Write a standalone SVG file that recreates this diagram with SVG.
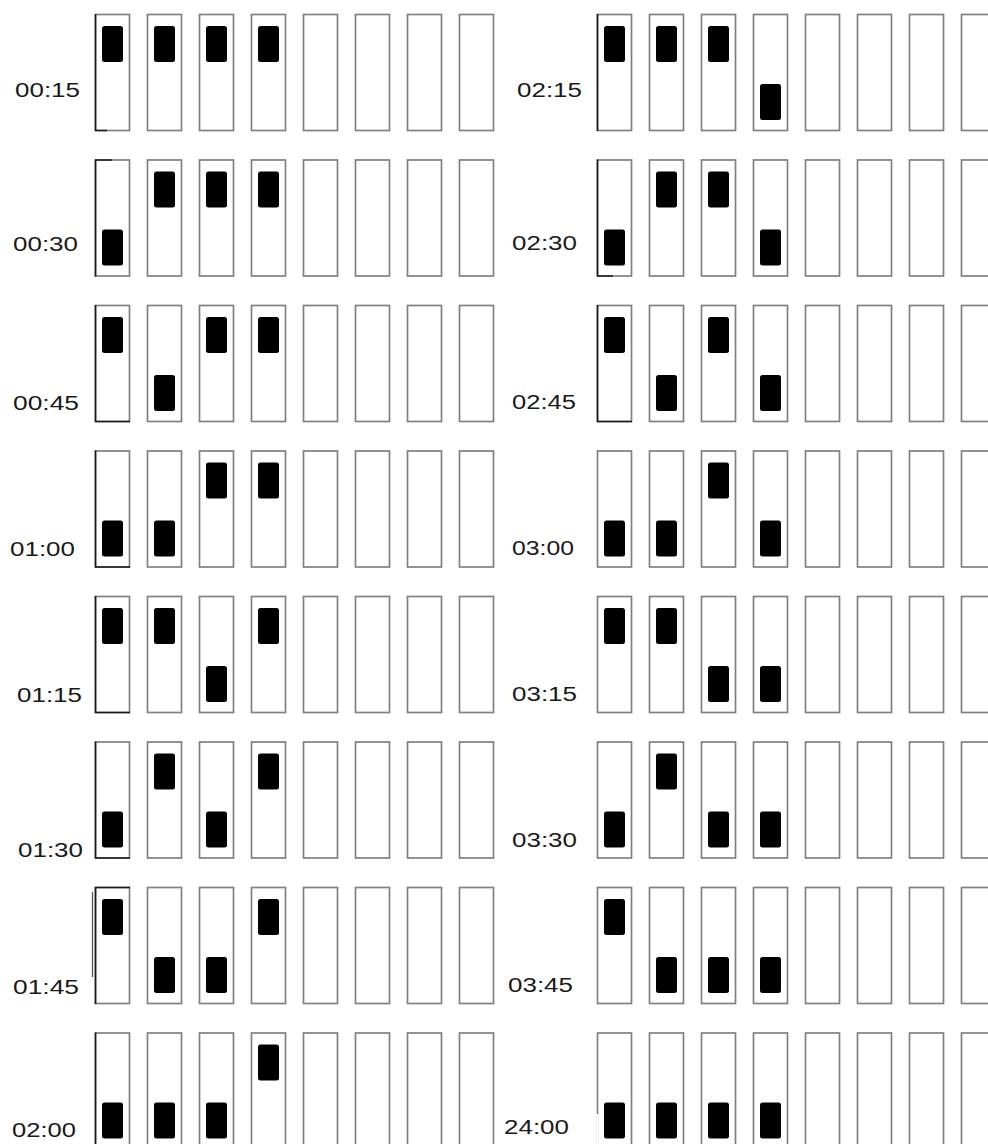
<svg xmlns="http://www.w3.org/2000/svg" xmlns:xlink="http://www.w3.org/1999/xlink" width="988" height="1144" viewBox="0 0 988 1144">
<style>
.box{fill:#fff;stroke:#808080;stroke-width:1.7}
.blk{fill:#000}
.dk{stroke:#1a1a1a;stroke-width:1.6;fill:none}
.lbl{font-family:"Liberation Sans",Arial,sans-serif;font-size:20.5px;fill:#1a1a1a}
</style>
<defs>
<g id="boxes">
<rect class="box" x="0.5" y="0.5" width="34" height="116"/>
<rect class="box" x="52.5" y="0.5" width="34" height="116"/>
<rect class="box" x="104.5" y="0.5" width="34" height="116"/>
<rect class="box" x="156.5" y="0.5" width="34" height="116"/>
<rect class="box" x="208.5" y="0.5" width="34" height="116"/>
<rect class="box" x="260.5" y="0.5" width="34" height="116"/>
<rect class="box" x="312.5" y="0.5" width="34" height="116"/>
<rect class="box" x="364.5" y="0.5" width="34" height="116"/>
</g>
<rect id="bk" class="blk" width="21" height="36" rx="2.5"/>
</defs>
<rect width="988" height="1144" fill="#fff"/>

<g id="r0015">
<use xlink:href="#boxes" x="95" y="14"/>
<path class="dk" d="M95.5 14v117M95 130.5h12"/>
<use xlink:href="#bk" x="102" y="26"/><use xlink:href="#bk" x="154" y="26"/><use xlink:href="#bk" x="206" y="26"/><use xlink:href="#bk" x="258" y="26"/>
<text class="lbl" x="15" y="96.5" textLength="65" lengthAdjust="spacingAndGlyphs">00:15</text>
</g>
<g id="r0030">
<use xlink:href="#boxes" x="95" y="159.5"/>
<path class="dk" d="M95.5 159.5v117M95 160h17"/>
<use xlink:href="#bk" x="102" y="229.5"/><use xlink:href="#bk" x="154" y="171.5"/><use xlink:href="#bk" x="206" y="171.5"/><use xlink:href="#bk" x="258" y="171.5"/>
<text class="lbl" x="13" y="250.5" textLength="65" lengthAdjust="spacingAndGlyphs">00:30</text>
</g>
<g id="r0045">
<use xlink:href="#boxes" x="95" y="305"/>
<path class="dk" d="M95.5 305v117M95 421.5h35"/>
<use xlink:href="#bk" x="102" y="317"/><use xlink:href="#bk" x="154" y="375"/><use xlink:href="#bk" x="206" y="317"/><use xlink:href="#bk" x="258" y="317"/>
<text class="lbl" x="13" y="410" textLength="66" lengthAdjust="spacingAndGlyphs">00:45</text>
</g>
<g id="r0100">
<use xlink:href="#boxes" x="95" y="450.5"/>
<path class="dk" d="M95.5 450.5v117M95 567h35"/>
<use xlink:href="#bk" x="102" y="520.5"/><use xlink:href="#bk" x="154" y="520.5"/><use xlink:href="#bk" x="206" y="462.5"/><use xlink:href="#bk" x="258" y="462.5"/>
<text class="lbl" x="10" y="555.5" textLength="65" lengthAdjust="spacingAndGlyphs">01:00</text>
</g>
<g id="r0115">
<use xlink:href="#boxes" x="95" y="596"/>
<path class="dk" d="M95.5 596v117M95 712.5h35"/>
<use xlink:href="#bk" x="102" y="608"/><use xlink:href="#bk" x="154" y="608"/><use xlink:href="#bk" x="206" y="666"/><use xlink:href="#bk" x="258" y="608"/>
<text class="lbl" x="17" y="702" textLength="65" lengthAdjust="spacingAndGlyphs">01:15</text>
</g>
<g id="r0130">
<use xlink:href="#boxes" x="95" y="741.5"/>
<path class="dk" d="M95.5 741.5v117M95 858h35"/>
<use xlink:href="#bk" x="102" y="811.5"/><use xlink:href="#bk" x="154" y="753.5"/><use xlink:href="#bk" x="206" y="811.5"/><use xlink:href="#bk" x="258" y="753.5"/>
<text class="lbl" x="18" y="857" textLength="65" lengthAdjust="spacingAndGlyphs">01:30</text>
</g>
<g id="r0145">
<use xlink:href="#boxes" x="95" y="887"/>
<path class="dk" d="M95.5 887v117M95 887.5h35"/>
<path d="M92.5 892v85" stroke="#555" stroke-width="1.3"/>
<use xlink:href="#bk" x="102" y="899"/><use xlink:href="#bk" x="154" y="957"/><use xlink:href="#bk" x="206" y="957"/><use xlink:href="#bk" x="258" y="899"/>
<text class="lbl" x="13" y="994" textLength="66" lengthAdjust="spacingAndGlyphs">01:45</text>
</g>
<g id="r0200">
<use xlink:href="#boxes" x="95" y="1032.5"/>
<path class="dk" d="M95.5 1032.5v112"/>
<use xlink:href="#bk" x="102" y="1102.5"/><use xlink:href="#bk" x="154" y="1102.5"/><use xlink:href="#bk" x="206" y="1102.5"/><use xlink:href="#bk" x="258" y="1044.5"/>
<text class="lbl" x="12" y="1136.5" textLength="64" lengthAdjust="spacingAndGlyphs">02:00</text>
</g>

<g id="r0215">
<use xlink:href="#boxes" x="597" y="14"/>
<path class="dk" d="M597.5 14v117"/>
<use xlink:href="#bk" x="604" y="26"/><use xlink:href="#bk" x="656" y="26"/><use xlink:href="#bk" x="708" y="26"/><use xlink:href="#bk" x="760" y="84"/>
<text class="lbl" x="517" y="96.5" textLength="65" lengthAdjust="spacingAndGlyphs">02:15</text>
</g>
<g id="r0230">
<use xlink:href="#boxes" x="597" y="159.5"/>
<path class="dk" d="M597.5 159.5v117M597 276h16"/>
<use xlink:href="#bk" x="604" y="229.5"/><use xlink:href="#bk" x="656" y="171.5"/><use xlink:href="#bk" x="708" y="171.5"/><use xlink:href="#bk" x="760" y="229.5"/>
<text class="lbl" x="512" y="250" textLength="65" lengthAdjust="spacingAndGlyphs">02:30</text>
</g>
<g id="r0245">
<use xlink:href="#boxes" x="597" y="305"/>
<path class="dk" d="M597.5 305v117M597 421.5h35"/>
<use xlink:href="#bk" x="604" y="317"/><use xlink:href="#bk" x="656" y="375"/><use xlink:href="#bk" x="708" y="317"/><use xlink:href="#bk" x="760" y="375"/>
<text class="lbl" x="512" y="409" textLength="64" lengthAdjust="spacingAndGlyphs">02:45</text>
</g>
<g id="r0300">
<use xlink:href="#boxes" x="597" y="450.5"/>
<use xlink:href="#bk" x="604" y="520.5"/><use xlink:href="#bk" x="656" y="520.5"/><use xlink:href="#bk" x="708" y="462.5"/><use xlink:href="#bk" x="760" y="520.5"/>
<text class="lbl" x="512" y="554.5" textLength="62" lengthAdjust="spacingAndGlyphs">03:00</text>
</g>
<g id="r0315">
<use xlink:href="#boxes" x="597" y="596"/>
<use xlink:href="#bk" x="604" y="608"/><use xlink:href="#bk" x="656" y="608"/><use xlink:href="#bk" x="708" y="666"/><use xlink:href="#bk" x="760" y="666"/>
<text class="lbl" x="512" y="701" textLength="65" lengthAdjust="spacingAndGlyphs">03:15</text>
</g>
<g id="r0330">
<use xlink:href="#boxes" x="597" y="741.5"/>
<use xlink:href="#bk" x="604" y="811.5"/><use xlink:href="#bk" x="656" y="753.5"/><use xlink:href="#bk" x="708" y="811.5"/><use xlink:href="#bk" x="760" y="811.5"/>
<text class="lbl" x="512" y="847" textLength="65" lengthAdjust="spacingAndGlyphs">03:30</text>
</g>
<g id="r0345">
<use xlink:href="#boxes" x="597" y="887"/>
<use xlink:href="#bk" x="604" y="899"/><use xlink:href="#bk" x="656" y="957"/><use xlink:href="#bk" x="708" y="957"/><use xlink:href="#bk" x="760" y="957"/>
<text class="lbl" x="508" y="992" textLength="65" lengthAdjust="spacingAndGlyphs">03:45</text>
</g>
<g id="r2400">
<use xlink:href="#boxes" x="597" y="1032.5"/>
<path d="M597.5 1114v31" stroke="#fff" stroke-width="2.4"/>
<use xlink:href="#bk" x="604" y="1102.5"/><use xlink:href="#bk" x="656" y="1102.5"/><use xlink:href="#bk" x="708" y="1102.5"/><use xlink:href="#bk" x="760" y="1102.5"/>
<text class="lbl" x="504" y="1134" textLength="65" lengthAdjust="spacingAndGlyphs">24:00</text>
</g>
<g id="connectors"/>
</svg>
